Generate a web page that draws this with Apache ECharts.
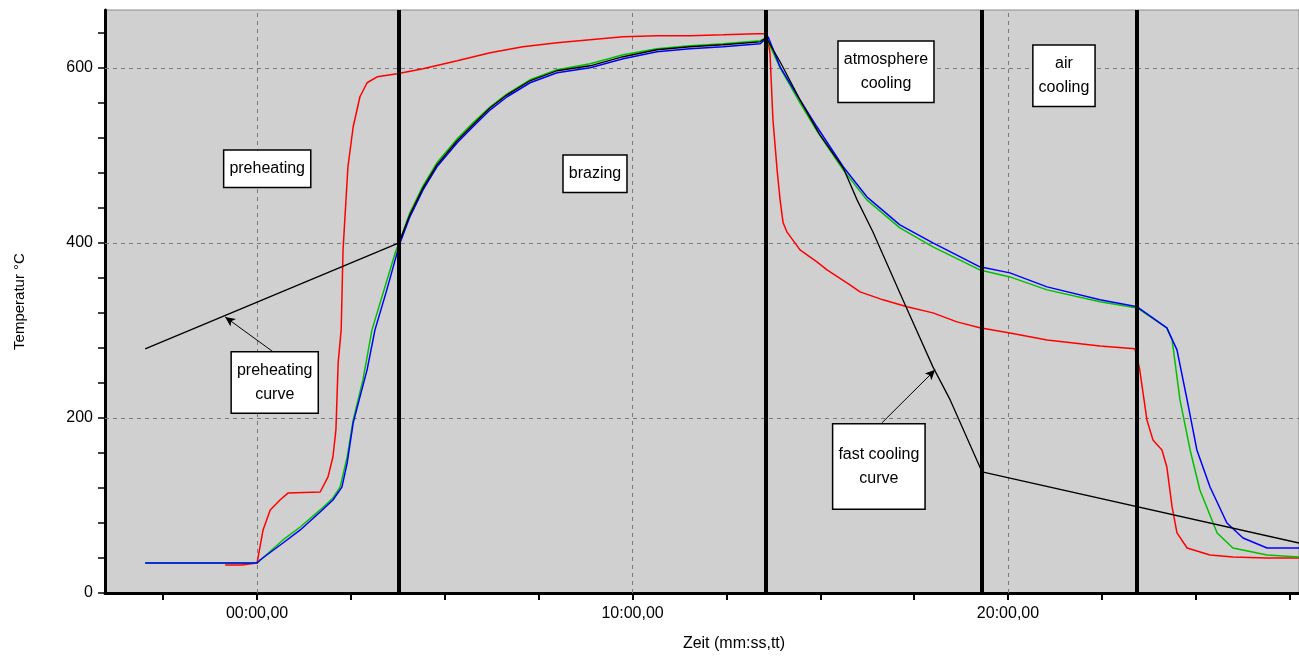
<!DOCTYPE html>
<html>
<head>
<meta charset="utf-8">
<script src="https://cdn.jsdelivr.net/npm/echarts@6/dist/echarts.min.js"></script>
<style>
  html, body { margin: 0; padding: 0; background: #fff; }
  #main { width: 1299px; height: 657px; }
</style>
</head>
<body>
<div id="main"></div>
<script>
// time in minutes, temperature in °C
var redCurve = [
  [-0.85, 32], [-0.40, 32], [0, 34.3], [0.16, 72], [0.35, 94.9], [0.61, 106.3], [0.83, 114.3],
  [1.68, 115.4], [1.89, 132.6], [2.02, 155.4], [2.10, 186.3], [2.16, 262.9], [2.24, 300.6],
  [2.29, 392], [2.42, 486.9], [2.56, 532.6], [2.74, 566.9], [2.93, 582.9], [3.20, 589.7],
  [3.73, 593.1], [4.42, 598.9], [5.33, 608], [6.21, 617.1], [7.08, 624], [7.99, 628.6],
  [8.87, 632], [9.75, 635.4], [10.65, 636.6], [11.53, 636.6], [12.41, 637.7], [13.32, 638.9],
  [13.58, 638.9], [13.66, 617.1], [13.74, 540.6], [13.85, 483.4], [13.93, 449.1], [14.01, 422.9],
  [14.11, 412.6], [14.46, 392], [14.91, 378.3], [15.18, 369.1], [15.79, 352], [16.06, 344],
  [16.67, 334.9], [17.31, 326.9], [18.00, 320], [18.64, 309.7], [19.25, 302.9], [20.05, 297.1],
  [21.04, 289.1], [22.45, 282.3], [23.38, 278.9], [23.50, 257.1], [23.70, 197.7], [23.86, 174.9],
  [24.10, 163.4], [24.23, 144], [24.37, 98.3], [24.50, 68.6], [24.77, 51.4], [25.38, 43.4],
  [25.99, 41.1], [26.90, 40], [27.75, 40]
];
var greenCurve = [
  [-2.98, 34.3], [0, 34.3], [0.69, 60.6], [1.15, 75.4], [1.68, 94.9], [2.02, 108.6], [2.21, 121],
  [2.40, 155.4], [2.56, 197.7], [2.82, 243.4], [3.06, 300.6], [3.68, 388.6], [3.81, 403.4],
  [4.07, 434.3], [4.42, 465.1], [4.79, 491.4], [5.33, 518.9], [5.75, 537.1], [6.21, 555.4],
  [6.66, 570.3], [7.27, 586.3], [7.99, 597.7], [8.87, 604.6], [9.75, 614.9], [10.65, 621.7],
  [11.53, 625.1], [12.41, 627.4], [13.40, 630.9], [13.56, 634.3], [13.93, 600], [14.46, 560],
  [14.91, 528], [15.61, 483.4], [16.24, 449.1], [17.12, 417.1], [18.00, 395.4], [19.25, 369.1],
  [20.05, 361.1], [21.04, 346.3], [22.45, 332.6], [23.44, 325.7], [24.23, 302.9], [24.37, 289.1],
  [24.58, 220.6], [24.85, 163.4], [25.11, 117.7], [25.57, 68.6], [25.99, 51.4], [26.90, 43.4],
  [27.75, 41.1]
];
var blueCurve = [
  [-2.98, 34.3], [0, 34.3], [0.08, 37.7], [0.69, 57.1], [1.15, 72], [1.68, 92.6], [2.02, 106.3],
  [2.26, 121], [2.40, 148.6], [2.56, 194.3], [2.74, 224], [2.93, 254.9], [3.14, 300.6],
  [3.44, 344], [3.73, 388.6], [3.81, 400], [4.07, 429.7], [4.42, 460.6], [4.79, 486.9],
  [5.33, 514.3], [5.75, 532.6], [6.21, 552], [6.66, 566.9], [7.27, 582.9], [7.99, 594.3],
  [8.87, 600], [9.75, 610.3], [10.65, 618.3], [11.53, 621.7], [12.41, 624], [13.40, 627.4],
  [13.61, 635.4], [13.93, 601], [14.46, 563.4], [14.91, 532.6], [15.61, 486.9], [16.24, 452.6],
  [17.12, 420.6], [18.00, 400], [19.25, 372.6], [20.05, 365.7], [21.04, 349.7], [22.45, 334.9],
  [23.44, 326.9], [24.23, 302.9], [24.50, 277.7], [24.77, 220.6], [25.03, 163.4], [25.38, 121.1],
  [25.83, 80], [26.26, 62.9], [26.90, 51.4], [27.75, 51.4]
];
var blackCurve = [
  [-2.98, 278.9], [3.78, 400], [4.07, 432], [4.42, 462.9], [4.79, 489.1], [5.33, 516.6],
  [5.75, 534.9], [6.21, 554.3], [6.66, 569.1], [7.27, 585.1], [7.99, 596.6], [8.87, 602.3],
  [9.75, 612.6], [10.65, 620.6], [11.53, 624], [12.41, 626.3], [13.40, 629.7], [13.56, 634.3],
  [13.93, 606.9], [14.46, 563.4], [14.99, 523.4], [15.61, 485.7], [15.98, 449.1], [16.40, 412.6],
  [17.20, 334.9], [18.00, 258.3], [18.46, 220.6], [19.31, 138.3], [27.75, 57.1]
];

var phaseBounds = [3.78, 13.56, 19.31, 23.44];
var gridX = [0, 10, 20];
var gridY = [200, 400, 600];
var xLabelValues = [0, 10, 20];
var xTickValues = [-2.5, 0, 2.5, 5, 7.5, 10, 12.5, 15, 17.5, 20, 22.5, 25, 27.5];
var yLabelValues = [0, 200, 400, 600];
var yTickValues = [0, 40, 80, 120, 160, 200, 240, 280, 320, 360, 400, 440, 480, 520, 560, 600, 640];
var xRange = [-4.05, 27.75];
var yRange = [0, 666];

var notes = [
  { text: 'preheating', at: [0.27, 484.6] },
  { text: 'brazing', at: [9.0, 478.9] },
  { text: 'atmosphere\ncooling', at: [16.75, 595.4] },
  { text: 'air\ncooling', at: [21.49, 590.9] },
  { text: 'preheating\ncurve', at: [0.47, 240.6] }
];
var arrows = [
  [[0.43, 275.4], [-0.85, 315.4]],
  [[16.64, 194.3], [18.06, 254.9]]
];

function pad2(n){ return (n < 10 ? '0' : '') + n; }

var boxLabel = {
  show: true,
  position: 'inside',
  color: '#000',
  fontSize: 16,
  fontFamily: 'Liberation Sans, Arial, sans-serif',
  lineHeight: 24,
  align: 'center',
  backgroundColor: '#fff',
  borderColor: '#000',
  borderWidth: 1.5,
  padding: [6, 5]
};

var option = {
  backgroundColor: '#fff',
  animation: false,
  textStyle: { fontFamily: 'Liberation Sans, Arial, sans-serif' },
  grid: {
    left: 105, right: 0, top: 10, bottom: 64,
    show: true,
    backgroundColor: '#d0d0d0',
    borderColor: '#8a8a8a',
    borderWidth: 1
  },
  xAxis: {
    type: 'value',
    min: xRange[0],
    max: xRange[1],
    axisLine: { show: true, onZero: false, lineStyle: { color: '#000', width: 3 } },
    axisTick: { show: true, customValues: xTickValues, length: 7, lineStyle: { color: '#000', width: 2 } },
    axisLabel: {
      customValues: xLabelValues,
      color: '#000',
      fontSize: 16,
      margin: 13,
      formatter: function(v){ return pad2(Math.round(v)) + ':00,00'; }
    },
    splitLine: { show: false },
    name: 'Zeit (mm:ss,tt)',
    nameLocation: 'middle',
    nameGap: 43,
    nameTextStyle: { color: '#000', fontSize: 16, padding: [0, 0, 0, 64] }
  },
  yAxis: {
    type: 'value',
    min: yRange[0],
    max: yRange[1],
    axisLine: { show: true, onZero: false, lineStyle: { color: '#000', width: 3 } },
    axisTick: { show: true, customValues: yTickValues, length: 7, lineStyle: { color: '#000', width: 1.5 } },
    axisLabel: { customValues: yLabelValues, color: '#000', fontSize: 16, margin: 12 },
    splitLine: { show: false },
    name: 'Temperatur °C',
    nameLocation: 'middle',
    nameGap: 78,
    nameRotate: 90,
    nameTextStyle: { color: '#000', fontSize: 15 }
  },
  series: [
    {
      name: 'grid',
      type: 'line',
      data: [],
      silent: true,
      markLine: {
        silent: true,
        z: 1,
        symbol: ['none', 'none'],
        label: { show: false },
        lineStyle: { color: '#7a7a7a', type: [4, 4], width: 1 },
        data: gridX.map(function(v){ return { xAxis: v }; })
          .concat(gridY.map(function(v){ return { yAxis: v }; }))
      }
    },
    {
      name: 'red', type: 'line', data: redCurve, showSymbol: false, z: 3,
      lineStyle: { color: '#ff0000', width: 1.5 }
    },
    {
      name: 'green', type: 'line', data: greenCurve, showSymbol: false, z: 3,
      lineStyle: { color: '#00c000', width: 1.5 }
    },
    {
      name: 'blue', type: 'line', data: blueCurve, showSymbol: false, z: 3,
      lineStyle: { color: '#0000ff', width: 1.5 }
    },
    {
      name: 'black', type: 'line', data: blackCurve, showSymbol: false, z: 3,
      lineStyle: { color: '#000', width: 1.3 }
    },
    {
      name: 'phases',
      type: 'line',
      data: [],
      silent: true,
      markLine: {
        silent: true,
        z: 6,
        symbol: ['none', 'none'],
        label: { show: false },
        lineStyle: { color: '#000', type: 'solid', width: 4 },
        data: phaseBounds.map(function(v){ return { xAxis: v }; })
      }
    },
    {
      name: 'notes',
      type: 'line',
      data: [],
      silent: true,
      markLine: {
        silent: true,
        z: 7,
        symbol: ['none', 'arrow'],
        symbolSize: [7, 10],
        label: { show: false },
        lineStyle: { color: '#000', type: 'solid', width: 1 },
        data: arrows.map(function(a){ return [{ coord: a[0] }, { coord: a[1] }]; })
      },
      markPoint: {
        silent: true,
        z: 8,
        symbol: 'rect',
        symbolSize: 1,
        itemStyle: { color: 'rgba(0,0,0,0)' },
        label: boxLabel,
        data: notes.map(function(n){
          return { coord: n.at, label: { formatter: n.text } };
        }).concat([{
          coord: [16.56, 144.6],
          label: { formatter: 'fast cooling\ncurve', padding: [7, 5, 29, 5] }
        }])
      }
    }
  ]
};

var chart = echarts.init(document.getElementById('main'));
chart.setOption(option);
</script>
</body>
</html>
